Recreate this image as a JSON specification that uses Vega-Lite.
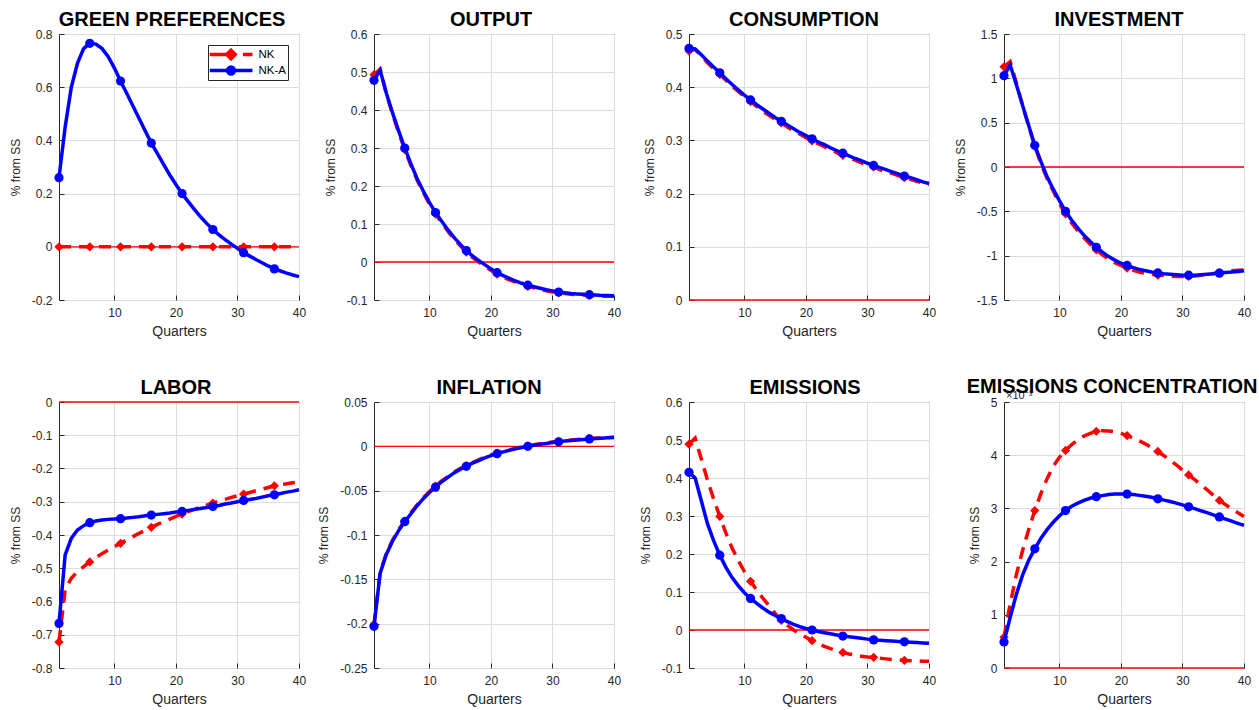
{
"$schema": "https://vega.github.io/schema/vega-lite/v6.json",
"background": "white",
"padding": {"left": 8, "top": 9, "right": 5, "bottom": 5},
"bounds": "flush",
"columns": 4,
"spacing": {"row": 102, "column": 75},
"resolve": {"scale": {"color": "independent"}, "legend": {"color": "independent"}},
"config": {
  "font": "Liberation Sans",
  "view": {"stroke": "#262626", "strokeWidth": 1},
  "axis": {"grid": true, "gridColor": "#dcdcdc", "gridWidth": 1, "domain": false, "tickColor": "#262626", "tickSize": -5, "labelColor": "#262626", "labelFontSize": 12, "labelPadding": 12, "labelFlush": false, "titleColor": "#262626", "titleFontWeight": "normal"},
  "axisX": {"titlePadding": 6, "titleFontSize": 14},
  "axisY": {"titlePadding": 9, "titleFontSize": 12},
  "title": {"fontSize": 20, "fontWeight": "bold", "color": "#000000", "offset": -2}
},
"data": {"values": [
{"q":1,"gp_nk":0,"gp_nka":0.26,"y_nk":0.493,"y_nka":0.478,"c_nk":0.468,"c_nka":0.473,"i_nk":1.13,"i_nka":1.03,"l_nk":-0.722,"l_nka":-0.666,"pi_nk":-0.201,"pi_nka":-0.203,"e_nk":0.489,"e_nka":0.415,"ec_nk":0.58,"ec_nka":0.49},
{"q":2,"gp_nk":0,"gp_nka":0.45,"y_nk":0.508,"y_nka":0.505,"c_nk":0.471,"c_nka":0.472,"i_nk":1.19,"i_nka":1.15,"l_nk":-0.565,"l_nka":-0.46,"pi_nk":-0.142,"pi_nka":-0.143,"e_nk":0.505,"e_nka":0.40,"ec_nk":1.2,"ec_nka":0.95},
{"q":3,"gp_nk":0,"gp_nka":0.60,"y_nk":0.443,"y_nka":0.445,"c_nk":0.459,"c_nka":0.461,"i_nk":0.95,"i_nka":0.93,"l_nk":-0.53,"l_nka":-0.41,"pi_nk":-0.121,"pi_nka":-0.122,"e_nk":0.45,"e_nka":0.34,"ec_nk":1.75,"ec_nka":1.38},
{"q":4,"gp_nk":0,"gp_nka":0.69,"y_nk":0.39,"y_nka":0.393,"c_nk":0.446,"c_nka":0.449,"i_nk":0.70,"i_nka":0.70,"l_nk":-0.51,"l_nka":-0.385,"pi_nk":-0.106,"pi_nka":-0.107,"e_nk":0.395,"e_nka":0.28,"ec_nk":2.2,"ec_nka":1.74},
{"q":5,"gp_nk":0,"gp_nka":0.745,"y_nk":0.341,"y_nka":0.345,"c_nk":0.435,"c_nka":0.438,"i_nk":0.46,"i_nka":0.47,"l_nk":-0.495,"l_nka":-0.372,"pi_nk":-0.094,"pi_nka":-0.095,"e_nk":0.345,"e_nka":0.235,"ec_nk":2.6,"ec_nka":2.02},
{"q":6,"gp_nk":0,"gp_nka":0.765,"y_nk":0.296,"y_nka":0.30,"c_nk":0.424,"c_nka":0.427,"i_nk":0.235,"i_nka":0.245,"l_nk":-0.481,"l_nka":-0.363,"pi_nk":-0.084,"pi_nka":-0.085,"e_nk":0.299,"e_nka":0.197,"ec_nk":2.96,"ec_nka":2.24},
{"q":7,"gp_nk":0,"gp_nka":0.762,"y_nk":0.254,"y_nka":0.258,"c_nk":0.413,"c_nka":0.416,"i_nk":0.04,"i_nka":0.06,"l_nk":-0.468,"l_nka":-0.358,"pi_nk":-0.075,"pi_nka":-0.076,"e_nk":0.255,"e_nka":0.165,"ec_nk":3.28,"ec_nka":2.44},
{"q":8,"gp_nk":0,"gp_nka":0.745,"y_nk":0.216,"y_nka":0.22,"c_nk":0.402,"c_nka":0.405,"i_nk":-0.13,"i_nka":-0.11,"l_nk":-0.456,"l_nka":-0.355,"pi_nk":-0.066,"pi_nka":-0.067,"e_nk":0.216,"e_nka":0.138,"ec_nk":3.56,"ec_nka":2.6},
{"q":9,"gp_nk":0,"gp_nka":0.715,"y_nk":0.183,"y_nka":0.187,"c_nk":0.392,"c_nka":0.395,"i_nk":-0.27,"i_nka":-0.25,"l_nk":-0.445,"l_nka":-0.353,"pi_nk":-0.058,"pi_nka":-0.059,"e_nk":0.183,"e_nka":0.117,"ec_nk":3.79,"ec_nka":2.74},
{"q":10,"gp_nk":0,"gp_nka":0.672,"y_nk":0.153,"y_nka":0.157,"c_nk":0.382,"c_nka":0.385,"i_nk":-0.41,"i_nka":-0.38,"l_nk":-0.435,"l_nka":-0.352,"pi_nk":-0.051,"pi_nka":-0.052,"e_nk":0.154,"e_nka":0.098,"ec_nk":3.96,"ec_nka":2.86},
{"q":11,"gp_nk":0,"gp_nka":0.623,"y_nk":0.126,"y_nka":0.13,"c_nk":0.373,"c_nka":0.376,"i_nk":-0.53,"i_nka":-0.50,"l_nk":-0.425,"l_nka":-0.351,"pi_nk":-0.045,"pi_nka":-0.046,"e_nk":0.128,"e_nka":0.083,"ec_nk":4.09,"ec_nka":2.96},
{"q":12,"gp_nk":0,"gp_nka":0.577,"y_nk":0.103,"y_nka":0.107,"c_nk":0.364,"c_nka":0.367,"i_nk":-0.63,"i_nka":-0.60,"l_nk":-0.415,"l_nka":-0.349,"pi_nk":-0.039,"pi_nka":-0.04,"e_nk":0.105,"e_nka":0.07,"ec_nk":4.2,"ec_nka":3.04},
{"q":13,"gp_nk":0,"gp_nka":0.53,"y_nk":0.081,"y_nka":0.085,"c_nk":0.355,"c_nka":0.359,"i_nk":-0.72,"i_nka":-0.69,"l_nk":-0.405,"l_nka":-0.347,"pi_nk":-0.034,"pi_nka":-0.035,"e_nk":0.084,"e_nka":0.058,"ec_nk":4.29,"ec_nka":3.1},
{"q":14,"gp_nk":0,"gp_nka":0.483,"y_nk":0.061,"y_nka":0.065,"c_nk":0.347,"c_nka":0.351,"i_nk":-0.80,"i_nka":-0.77,"l_nk":-0.395,"l_nka":-0.345,"pi_nk":-0.029,"pi_nka":-0.03,"e_nk":0.064,"e_nka":0.047,"ec_nk":4.36,"ec_nka":3.15},
{"q":15,"gp_nk":0,"gp_nka":0.436,"y_nk":0.043,"y_nka":0.047,"c_nk":0.34,"c_nka":0.343,"i_nk":-0.87,"i_nka":-0.84,"l_nk":-0.386,"l_nka":-0.342,"pi_nk":-0.025,"pi_nka":-0.026,"e_nk":0.044,"e_nka":0.038,"ec_nk":4.41,"ec_nka":3.19},
{"q":16,"gp_nk":0,"gp_nka":0.39,"y_nk":0.026,"y_nka":0.03,"c_nk":0.333,"c_nka":0.336,"i_nk":-0.935,"i_nka":-0.905,"l_nk":-0.377,"l_nka":-0.34,"pi_nk":-0.0217,"pi_nka":-0.0225,"e_nk":0.025,"e_nka":0.03,"ec_nk":4.45,"ec_nka":3.22},
{"q":17,"gp_nk":0,"gp_nka":0.35,"y_nk":0.012,"y_nka":0.016,"c_nk":0.325,"c_nka":0.329,"i_nk":-0.99,"i_nka":-0.96,"l_nk":-0.368,"l_nka":-0.338,"pi_nk":-0.0182,"pi_nka":-0.019,"e_nk":0.012,"e_nka":0.022,"ec_nk":4.46,"ec_nka":3.24},
{"q":18,"gp_nk":0,"gp_nka":0.31,"y_nk":0.0,"y_nka":0.004,"c_nk":0.318,"c_nka":0.322,"i_nk":-1.04,"i_nka":-1.01,"l_nk":-0.36,"l_nka":-0.336,"pi_nk":-0.0152,"pi_nka":-0.016,"e_nk":0.0,"e_nka":0.015,"ec_nk":4.455,"ec_nka":3.26},
{"q":19,"gp_nk":0,"gp_nka":0.27,"y_nk":-0.011,"y_nka":-0.007,"c_nk":0.312,"c_nka":0.315,"i_nk":-1.08,"i_nka":-1.05,"l_nk":-0.352,"l_nka":-0.334,"pi_nk":-0.0123,"pi_nka":-0.013,"e_nk":-0.01,"e_nka":0.009,"ec_nk":4.44,"ec_nka":3.27},
{"q":20,"gp_nk":0,"gp_nka":0.234,"y_nk":-0.022,"y_nka":-0.018,"c_nk":0.305,"c_nka":0.309,"i_nk":-1.11,"i_nka":-1.085,"l_nk":-0.344,"l_nka":-0.331,"pi_nk":-0.0098,"pi_nka":-0.0105,"e_nk":-0.019,"e_nka":0.004,"ec_nk":4.41,"ec_nka":3.27},
{"q":21,"gp_nk":0,"gp_nka":0.2,"y_nk":-0.032,"y_nka":-0.028,"c_nk":0.299,"c_nka":0.303,"i_nk":-1.14,"i_nka":-1.11,"l_nk":-0.337,"l_nka":-0.329,"pi_nk":-0.0076,"pi_nka":-0.0083,"e_nk":-0.028,"e_nka":0.0,"ec_nk":4.37,"ec_nka":3.27},
{"q":22,"gp_nk":0,"gp_nka":0.17,"y_nk":-0.04,"y_nka":-0.036,"c_nk":0.294,"c_nka":0.297,"i_nk":-1.165,"i_nka":-1.135,"l_nk":-0.33,"l_nka":-0.326,"pi_nk":-0.0056,"pi_nka":-0.0063,"e_nk":-0.036,"e_nka":-0.004,"ec_nk":4.32,"ec_nka":3.26},
{"q":23,"gp_nk":0,"gp_nka":0.141,"y_nk":-0.047,"y_nka":-0.043,"c_nk":0.288,"c_nka":0.292,"i_nk":-1.185,"i_nka":-1.155,"l_nk":-0.323,"l_nka":-0.323,"pi_nk":-0.0038,"pi_nka":-0.0045,"e_nk":-0.043,"e_nka":-0.007,"ec_nk":4.27,"ec_nka":3.245},
{"q":24,"gp_nk":0,"gp_nka":0.113,"y_nk":-0.053,"y_nka":-0.05,"c_nk":0.283,"c_nka":0.286,"i_nk":-1.20,"i_nka":-1.17,"l_nk":-0.316,"l_nka":-0.32,"pi_nk":-0.0022,"pi_nka":-0.0029,"e_nk":-0.049,"e_nka":-0.01,"ec_nk":4.21,"ec_nka":3.23},
{"q":25,"gp_nk":0,"gp_nka":0.088,"y_nk":-0.059,"y_nka":-0.056,"c_nk":0.277,"c_nka":0.281,"i_nk":-1.21,"i_nka":-1.185,"l_nk":-0.31,"l_nka":-0.317,"pi_nk":-0.0008,"pi_nka":-0.0014,"e_nk":-0.054,"e_nka":-0.013,"ec_nk":4.14,"ec_nka":3.21},
{"q":26,"gp_nk":0,"gp_nka":0.065,"y_nk":-0.064,"y_nka":-0.061,"c_nk":0.272,"c_nka":0.276,"i_nk":-1.22,"i_nka":-1.195,"l_nk":-0.304,"l_nka":-0.314,"pi_nk":0.0006,"pi_nka":0.0,"e_nk":-0.059,"e_nka":-0.016,"ec_nk":4.07,"ec_nka":3.18},
{"q":27,"gp_nk":0,"gp_nka":0.045,"y_nk":-0.068,"y_nka":-0.065,"c_nk":0.267,"c_nka":0.271,"i_nk":-1.225,"i_nka":-1.205,"l_nk":-0.298,"l_nka":-0.311,"pi_nk":0.0018,"pi_nka":0.0012,"e_nk":-0.063,"e_nka":-0.018,"ec_nk":3.99,"ec_nka":3.155},
{"q":28,"gp_nk":0,"gp_nka":0.027,"y_nk":-0.072,"y_nka":-0.069,"c_nk":0.263,"c_nka":0.266,"i_nk":-1.23,"i_nka":-1.21,"l_nk":-0.293,"l_nka":-0.307,"pi_nk":0.0029,"pi_nka":0.0023,"e_nk":-0.066,"e_nka":-0.02,"ec_nk":3.9,"ec_nka":3.13},
{"q":29,"gp_nk":0,"gp_nka":0.01,"y_nk":-0.076,"y_nka":-0.073,"c_nk":0.258,"c_nka":0.262,"i_nk":-1.235,"i_nka":-1.215,"l_nk":-0.287,"l_nka":-0.304,"pi_nk":0.0039,"pi_nka":0.0033,"e_nk":-0.069,"e_nka":-0.022,"ec_nk":3.82,"ec_nka":3.1},
{"q":30,"gp_nk":0,"gp_nka":-0.006,"y_nk":-0.079,"y_nka":-0.076,"c_nk":0.254,"c_nka":0.257,"i_nk":-1.235,"i_nka":-1.22,"l_nk":-0.282,"l_nka":-0.3,"pi_nk":0.0048,"pi_nka":0.0042,"e_nk":-0.071,"e_nka":-0.024,"ec_nk":3.72,"ec_nka":3.065},
{"q":31,"gp_nk":0,"gp_nka":-0.022,"y_nk":-0.081,"y_nka":-0.079,"c_nk":0.25,"c_nka":0.253,"i_nk":-1.235,"i_nka":-1.22,"l_nk":-0.277,"l_nka":-0.296,"pi_nk":0.0057,"pi_nka":0.0051,"e_nk":-0.072,"e_nka":-0.026,"ec_nk":3.63,"ec_nka":3.03},
{"q":32,"gp_nk":0,"gp_nka":-0.035,"y_nk":-0.083,"y_nka":-0.081,"c_nk":0.245,"c_nka":0.249,"i_nk":-1.23,"i_nka":-1.22,"l_nk":-0.272,"l_nka":-0.293,"pi_nk":0.0065,"pi_nka":0.0059,"e_nk":-0.074,"e_nka":-0.027,"ec_nk":3.54,"ec_nka":2.995},
{"q":33,"gp_nk":0,"gp_nka":-0.048,"y_nk":-0.085,"y_nka":-0.083,"c_nk":0.241,"c_nka":0.245,"i_nk":-1.22,"i_nka":-1.215,"l_nk":-0.267,"l_nka":-0.29,"pi_nk":0.0072,"pi_nka":0.0066,"e_nk":-0.076,"e_nka":-0.028,"ec_nk":3.44,"ec_nka":2.955},
{"q":34,"gp_nk":0,"gp_nka":-0.06,"y_nk":-0.086,"y_nka":-0.084,"c_nk":0.238,"c_nka":0.241,"i_nk":-1.21,"i_nka":-1.21,"l_nk":-0.262,"l_nka":-0.286,"pi_nk":0.0078,"pi_nka":0.0072,"e_nk":-0.078,"e_nka":-0.029,"ec_nk":3.35,"ec_nka":2.92},
{"q":35,"gp_nk":0,"gp_nka":-0.072,"y_nk":-0.087,"y_nka":-0.085,"c_nk":0.234,"c_nka":0.237,"i_nk":-1.20,"i_nka":-1.205,"l_nk":-0.257,"l_nka":-0.282,"pi_nk":0.0083,"pi_nka":0.0078,"e_nk":-0.079,"e_nka":-0.03,"ec_nk":3.25,"ec_nka":2.88},
{"q":36,"gp_nk":0,"gp_nka":-0.083,"y_nk":-0.088,"y_nka":-0.086,"c_nk":0.23,"c_nka":0.233,"i_nk":-1.19,"i_nka":-1.197,"l_nk":-0.252,"l_nka":-0.279,"pi_nk":0.0088,"pi_nka":0.0083,"e_nk":-0.08,"e_nka":-0.031,"ec_nk":3.15,"ec_nka":2.84},
{"q":37,"gp_nk":0,"gp_nka":-0.091,"y_nk":-0.089,"y_nka":-0.087,"c_nk":0.227,"c_nka":0.23,"i_nk":-1.18,"i_nka":-1.19,"l_nk":-0.249,"l_nka":-0.275,"pi_nk":0.0092,"pi_nka":0.0088,"e_nk":-0.081,"e_nka":-0.032,"ec_nk":3.07,"ec_nka":2.8},
{"q":38,"gp_nk":0,"gp_nka":-0.099,"y_nk":-0.09,"y_nka":-0.088,"c_nk":0.223,"c_nka":0.226,"i_nk":-1.17,"i_nka":-1.185,"l_nk":-0.246,"l_nka":-0.271,"pi_nk":0.0096,"pi_nka":0.0092,"e_nk":-0.081,"e_nka":-0.033,"ec_nk":2.99,"ec_nka":2.76},
{"q":39,"gp_nk":0,"gp_nka":-0.106,"y_nk":-0.09,"y_nka":-0.088,"c_nk":0.22,"c_nka":0.222,"i_nk":-1.165,"i_nka":-1.178,"l_nk":-0.243,"l_nka":-0.268,"pi_nk":0.0099,"pi_nka":0.0096,"e_nk":-0.082,"e_nka":-0.034,"ec_nk":2.92,"ec_nka":2.72},
{"q":40,"gp_nk":0,"gp_nka":-0.112,"y_nk":-0.09,"y_nka":-0.089,"c_nk":0.217,"c_nka":0.219,"i_nk":-1.16,"i_nka":-1.17,"l_nk":-0.24,"l_nka":-0.264,"pi_nk":0.0102,"pi_nka":0.01,"e_nk":-0.082,"e_nka":-0.035,"ec_nk":2.85,"ec_nka":2.68}
]},
"concat": [
{"title": {"text": "GREEN PREFERENCES", "dx": -7}, "width": 240, "height": 266,
 "transform": [{"fold": ["gp_nk", "gp_nka"], "as": ["s", "v"]}],
 "encoding": {
  "x": {"field": "q", "type": "quantitative", "title": "Quarters", "scale": {"domain": [1, 40], "nice": false, "zero": false}, "axis": {"values": [10, 20, 30, 40]}},
  "y": {"field": "v", "type": "quantitative", "title": "% from SS", "scale": {"domain": [-0.2, 0.8], "nice": false, "zero": false}, "axis": {"values": [-0.2, 0, 0.2, 0.4, 0.6, 0.8], "labelExpr": "'' + datum.value"}}},
 "layer": [
  {"transform": [{"filter": "datum.s == 'gp_nk'"}], "mark": {"type": "line", "color": "#ff0000", "strokeWidth": 1.3}, "encoding": {"y": {"datum": 0, "title": "% from SS"}}},
  {"transform": [{"filter": "datum.s == 'gp_nk'"}], "mark": {"type": "line", "strokeWidth": 3.5, "strokeDash": [12, 8]},
   "encoding": {"color": {"datum": "NK", "scale": {"domain": ["NK", "NK-A"], "range": ["#ff0000", "#0000ff"]},
     "legend": {"title": null, "orient": "top-right", "offset": 11, "padding": 1.5, "strokeColor": "#262626", "fillColor": "white", "labelFontSize": 11.5, "labelColor": "#000000", "symbolStrokeWidth": 3.5, "symbolSize": 289, "symbolOffset": 11, "rowPadding": 0, "clipHeight": 16, "labelOffset": 17,
      "encode": {"symbols": {"update": {
        "shape": {"signal": "datum.value == 'NK' ? 'M-2.53,0H0.5M1.4,0H2.53M0,-0.5L0.5,0L0,0.5L-0.5,0Z' : 'M-2.53,0H2.53M0.4,0A0.4,0.4,0,1,1,-0.4,0A0.4,0.4,0,1,1,0.4,0Z'"},
        "fill": {"signal": "datum.value == 'NK' ? '#ff0000' : '#0000ff'"},
        "stroke": {"signal": "datum.value == 'NK' ? '#ff0000' : '#0000ff'"},
        "strokeWidth": {"value": 3.5},
        "opacity": {"value": 1}}}}}}}},
  {"transform": [{"filter": "datum.s == 'gp_nk' && (datum.q - 1) % 5 == 0"}], "mark": {"type": "point", "shape": "diamond", "filled": true, "size": 85, "opacity": 1}, "encoding": {"color": {"datum": "NK"}}},
  {"transform": [{"filter": "datum.s == 'gp_nka'"}], "mark": {"type": "line", "strokeWidth": 3.5}, "encoding": {"color": {"datum": "NK-A"}}},
  {"transform": [{"filter": "datum.s == 'gp_nka' && (datum.q - 1) % 5 == 0"}], "mark": {"type": "point", "shape": "circle", "filled": true, "size": 85, "opacity": 1}, "encoding": {"color": {"datum": "NK-A"}}}
 ]},
{"title": {"text": "OUTPUT", "dx": -3}, "width": 240, "height": 266,
 "transform": [{"fold": ["y_nk", "y_nka"], "as": ["s", "v"]}],
 "encoding": {
  "x": {"field": "q", "type": "quantitative", "title": "Quarters", "scale": {"domain": [1, 40], "nice": false, "zero": false}, "axis": {"values": [10, 20, 30, 40]}},
  "y": {"field": "v", "type": "quantitative", "title": "% from SS", "scale": {"domain": [-0.1, 0.6], "nice": false, "zero": false}, "axis": {"values": [-0.1, 0, 0.1, 0.2, 0.3, 0.4, 0.5, 0.6], "labelExpr": "'' + datum.value"}}},
 "layer": [
  {"transform": [{"filter": "datum.s == 'y_nk'"}], "mark": {"type": "line", "color": "#ff0000", "strokeWidth": 1.3}, "encoding": {"y": {"datum": 0, "title": "% from SS"}}},
  {"transform": [{"filter": "datum.s == 'y_nk'"}], "mark": {"type": "line", "color": "#ff0000", "strokeWidth": 3.5, "strokeDash": [12, 8]}},
  {"transform": [{"filter": "datum.s == 'y_nk' && (datum.q - 1) % 5 == 0"}], "mark": {"type": "point", "shape": "diamond", "color": "#ff0000", "filled": true, "size": 85, "opacity": 1}},
  {"transform": [{"filter": "datum.s == 'y_nka'"}], "mark": {"type": "line", "color": "#0000ff", "strokeWidth": 3.5}},
  {"transform": [{"filter": "datum.s == 'y_nka' && (datum.q - 1) % 5 == 0"}], "mark": {"type": "point", "shape": "circle", "color": "#0000ff", "filled": true, "size": 85, "opacity": 1}}
 ]},
{"title": {"text": "CONSUMPTION", "dx": -5}, "width": 240, "height": 266,
 "transform": [{"fold": ["c_nk", "c_nka"], "as": ["s", "v"]}],
 "encoding": {
  "x": {"field": "q", "type": "quantitative", "title": "Quarters", "scale": {"domain": [1, 40], "nice": false, "zero": false}, "axis": {"values": [10, 20, 30, 40]}},
  "y": {"field": "v", "type": "quantitative", "title": "% from SS", "scale": {"domain": [0, 0.5], "nice": false, "zero": false}, "axis": {"values": [0, 0.1, 0.2, 0.3, 0.4, 0.5], "labelExpr": "'' + datum.value"}}},
 "layer": [
  {"transform": [{"filter": "datum.s == 'c_nk'"}], "mark": {"type": "line", "color": "#ff0000", "strokeWidth": 1.3}, "encoding": {"y": {"datum": 0, "title": "% from SS"}}},
  {"transform": [{"filter": "datum.s == 'c_nk'"}], "mark": {"type": "line", "color": "#ff0000", "strokeWidth": 3.5, "strokeDash": [12, 8]}},
  {"transform": [{"filter": "datum.s == 'c_nk' && (datum.q - 1) % 5 == 0"}], "mark": {"type": "point", "shape": "diamond", "color": "#ff0000", "filled": true, "size": 85, "opacity": 1}},
  {"transform": [{"filter": "datum.s == 'c_nka'"}], "mark": {"type": "line", "color": "#0000ff", "strokeWidth": 3.5}},
  {"transform": [{"filter": "datum.s == 'c_nka' && (datum.q - 1) % 5 == 0"}], "mark": {"type": "point", "shape": "circle", "color": "#0000ff", "filled": true, "size": 85, "opacity": 1}}
 ]},
{"title": {"text": "INVESTMENT", "dx": -5}, "width": 240, "height": 266,
 "transform": [{"fold": ["i_nk", "i_nka"], "as": ["s", "v"]}],
 "encoding": {
  "x": {"field": "q", "type": "quantitative", "title": "Quarters", "scale": {"domain": [1, 40], "nice": false, "zero": false}, "axis": {"values": [10, 20, 30, 40]}},
  "y": {"field": "v", "type": "quantitative", "title": "% from SS", "scale": {"domain": [-1.5, 1.5], "nice": false, "zero": false}, "axis": {"values": [-1.5, -1, -0.5, 0, 0.5, 1, 1.5], "labelExpr": "'' + datum.value"}}},
 "layer": [
  {"transform": [{"filter": "datum.s == 'i_nk'"}], "mark": {"type": "line", "color": "#ff0000", "strokeWidth": 1.3}, "encoding": {"y": {"datum": 0, "title": "% from SS"}}},
  {"transform": [{"filter": "datum.s == 'i_nk'"}], "mark": {"type": "line", "color": "#ff0000", "strokeWidth": 3.5, "strokeDash": [12, 8]}},
  {"transform": [{"filter": "datum.s == 'i_nk' && (datum.q - 1) % 5 == 0"}], "mark": {"type": "point", "shape": "diamond", "color": "#ff0000", "filled": true, "size": 85, "opacity": 1}},
  {"transform": [{"filter": "datum.s == 'i_nka'"}], "mark": {"type": "line", "color": "#0000ff", "strokeWidth": 3.5}},
  {"transform": [{"filter": "datum.s == 'i_nka' && (datum.q - 1) % 5 == 0"}], "mark": {"type": "point", "shape": "circle", "color": "#0000ff", "filled": true, "size": 85, "opacity": 1}}
 ]},
{"title": {"text": "LABOR", "dx": -3}, "width": 240, "height": 266,
 "transform": [{"fold": ["l_nk", "l_nka"], "as": ["s", "v"]}],
 "encoding": {
  "x": {"field": "q", "type": "quantitative", "title": "Quarters", "scale": {"domain": [1, 40], "nice": false, "zero": false}, "axis": {"values": [10, 20, 30, 40]}},
  "y": {"field": "v", "type": "quantitative", "title": "% from SS", "scale": {"domain": [-0.8, 0], "nice": false, "zero": false}, "axis": {"values": [-0.8, -0.7, -0.6, -0.5, -0.4, -0.3, -0.2, -0.1, 0], "labelExpr": "'' + datum.value"}}},
 "layer": [
  {"transform": [{"filter": "datum.s == 'l_nk'"}], "mark": {"type": "line", "color": "#ff0000", "strokeWidth": 1.3}, "encoding": {"y": {"datum": 0, "title": "% from SS"}}},
  {"transform": [{"filter": "datum.s == 'l_nk'"}], "mark": {"type": "line", "color": "#ff0000", "strokeWidth": 3.5, "strokeDash": [12, 8]}},
  {"transform": [{"filter": "datum.s == 'l_nk' && (datum.q - 1) % 5 == 0"}], "mark": {"type": "point", "shape": "diamond", "color": "#ff0000", "filled": true, "size": 85, "opacity": 1}},
  {"transform": [{"filter": "datum.s == 'l_nka'"}], "mark": {"type": "line", "color": "#0000ff", "strokeWidth": 3.5}},
  {"transform": [{"filter": "datum.s == 'l_nka' && (datum.q - 1) % 5 == 0"}], "mark": {"type": "point", "shape": "circle", "color": "#0000ff", "filled": true, "size": 85, "opacity": 1}}
 ]},
{"title": {"text": "INFLATION", "dx": -5}, "width": 240, "height": 266,
 "transform": [{"fold": ["pi_nk", "pi_nka"], "as": ["s", "v"]}],
 "encoding": {
  "x": {"field": "q", "type": "quantitative", "title": "Quarters", "scale": {"domain": [1, 40], "nice": false, "zero": false}, "axis": {"values": [10, 20, 30, 40]}},
  "y": {"field": "v", "type": "quantitative", "title": "% from SS", "scale": {"domain": [-0.25, 0.05], "nice": false, "zero": false}, "axis": {"values": [-0.25, -0.2, -0.15, -0.1, -0.05, 0, 0.05], "labelExpr": "'' + datum.value"}}},
 "layer": [
  {"transform": [{"filter": "datum.s == 'pi_nk'"}], "mark": {"type": "line", "color": "#ff0000", "strokeWidth": 1.3}, "encoding": {"y": {"datum": 0, "title": "% from SS"}}},
  {"transform": [{"filter": "datum.s == 'pi_nk'"}], "mark": {"type": "line", "color": "#ff0000", "strokeWidth": 3.5, "strokeDash": [12, 8]}},
  {"transform": [{"filter": "datum.s == 'pi_nk' && (datum.q - 1) % 5 == 0"}], "mark": {"type": "point", "shape": "diamond", "color": "#ff0000", "filled": true, "size": 85, "opacity": 1}},
  {"transform": [{"filter": "datum.s == 'pi_nka'"}], "mark": {"type": "line", "color": "#0000ff", "strokeWidth": 3.5}},
  {"transform": [{"filter": "datum.s == 'pi_nka' && (datum.q - 1) % 5 == 0"}], "mark": {"type": "point", "shape": "circle", "color": "#0000ff", "filled": true, "size": 85, "opacity": 1}}
 ]},
{"title": {"text": "EMISSIONS", "dx": -4}, "width": 240, "height": 266,
 "transform": [{"fold": ["e_nk", "e_nka"], "as": ["s", "v"]}],
 "encoding": {
  "x": {"field": "q", "type": "quantitative", "title": "Quarters", "scale": {"domain": [1, 40], "nice": false, "zero": false}, "axis": {"values": [10, 20, 30, 40]}},
  "y": {"field": "v", "type": "quantitative", "title": "% from SS", "scale": {"domain": [-0.1, 0.6], "nice": false, "zero": false}, "axis": {"values": [-0.1, 0, 0.1, 0.2, 0.3, 0.4, 0.5, 0.6], "labelExpr": "'' + datum.value"}}},
 "layer": [
  {"transform": [{"filter": "datum.s == 'e_nk'"}], "mark": {"type": "line", "color": "#ff0000", "strokeWidth": 1.3}, "encoding": {"y": {"datum": 0, "title": "% from SS"}}},
  {"transform": [{"filter": "datum.s == 'e_nk'"}], "mark": {"type": "line", "color": "#ff0000", "strokeWidth": 3.5, "strokeDash": [12, 8]}},
  {"transform": [{"filter": "datum.s == 'e_nk' && (datum.q - 1) % 5 == 0"}], "mark": {"type": "point", "shape": "diamond", "color": "#ff0000", "filled": true, "size": 85, "opacity": 1}},
  {"transform": [{"filter": "datum.s == 'e_nka'"}], "mark": {"type": "line", "color": "#0000ff", "strokeWidth": 3.5}},
  {"transform": [{"filter": "datum.s == 'e_nka' && (datum.q - 1) % 5 == 0"}], "mark": {"type": "point", "shape": "circle", "color": "#0000ff", "filled": true, "size": 85, "opacity": 1}}
 ]},
{"title": {"text": "EMISSIONS CONCENTRATION", "dx": -12, "dy": 5}, "width": 240, "height": 266,
 "transform": [{"fold": ["ec_nk", "ec_nka"], "as": ["s", "v"]}],
 "encoding": {
  "x": {"field": "q", "type": "quantitative", "title": "Quarters", "scale": {"domain": [1, 40], "nice": false, "zero": false}, "axis": {"values": [10, 20, 30, 40]}},
  "y": {"field": "v", "type": "quantitative", "title": "% from SS", "scale": {"domain": [0, 5], "nice": false, "zero": false}, "axis": {"values": [0, 1, 2, 3, 4, 5], "labelExpr": "'' + datum.value"}}},
 "layer": [
  {"transform": [{"filter": "datum.s == 'ec_nk' && datum.q == 1"}], "mark": {"type": "text", "text": "×10⁻³", "align": "left", "baseline": "bottom", "dx": 2, "dy": -1, "fontSize": 11, "color": "#262626"}, "encoding": {"x": {"datum": 1}, "y": {"datum": 5, "title": "% from SS"}}},
  {"transform": [{"filter": "datum.s == 'ec_nk'"}], "mark": {"type": "line", "color": "#ff0000", "strokeWidth": 1.3}, "encoding": {"y": {"datum": 0, "title": "% from SS"}}},
  {"transform": [{"filter": "datum.s == 'ec_nk'"}], "mark": {"type": "line", "color": "#ff0000", "strokeWidth": 3.5, "strokeDash": [12, 8]}},
  {"transform": [{"filter": "datum.s == 'ec_nk' && (datum.q - 1) % 5 == 0"}], "mark": {"type": "point", "shape": "diamond", "color": "#ff0000", "filled": true, "size": 85, "opacity": 1}},
  {"transform": [{"filter": "datum.s == 'ec_nka'"}], "mark": {"type": "line", "color": "#0000ff", "strokeWidth": 3.5}},
  {"transform": [{"filter": "datum.s == 'ec_nka' && (datum.q - 1) % 5 == 0"}], "mark": {"type": "point", "shape": "circle", "color": "#0000ff", "filled": true, "size": 85, "opacity": 1}}
 ]}
]
}
